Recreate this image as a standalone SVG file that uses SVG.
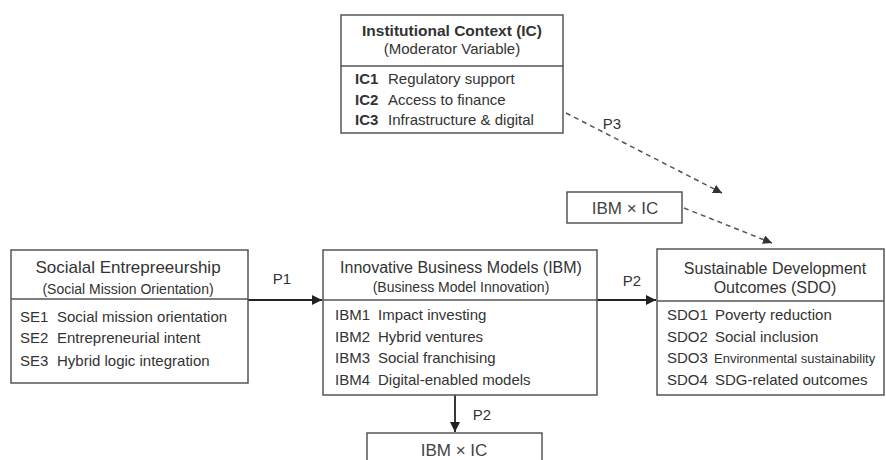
<svg xmlns="http://www.w3.org/2000/svg" width="886" height="460" viewBox="0 0 886 460">
<defs>
<marker id="ah" viewBox="0 0 10 10" refX="10" refY="5" markerWidth="10" markerHeight="10" markerUnits="userSpaceOnUse" orient="auto"><path d="M0,0 L10,5 L0,10 z" fill="#222"/></marker>
<marker id="ahd" viewBox="0 0 10 10" refX="10" refY="5" markerWidth="9" markerHeight="9" markerUnits="userSpaceOnUse" orient="auto"><path d="M0,0 L10,5 L0,10 z" fill="#333"/></marker>
<style>
text{font-family:"Liberation Sans",Arial,sans-serif;fill:#333}
.box{fill:#fff;stroke:#555;stroke-width:1.5}
.div{stroke:#555;stroke-width:1.5}
.t{font-size:16px;text-anchor:middle}
.tb{font-size:15.5px;font-weight:bold;text-anchor:middle}
.s{font-size:14px;text-anchor:middle}
.i{font-size:15px}
.lab{font-size:15px;text-anchor:middle}
.x{font-size:17px;text-anchor:middle;fill:#444}
.ar{stroke:#222;stroke-width:1.8;fill:none}
.da{stroke:#555;stroke-width:1.5;stroke-dasharray:5,4;fill:none}
</style>
</defs>
<g id="connectors">
<line class="ar" x1="248" y1="300" x2="322" y2="300" marker-end="url(#ah)"/>
<text class="lab" x="282" y="284">P1</text>
<line class="ar" x1="597" y1="300" x2="656" y2="300" marker-end="url(#ah)"/>
<text class="lab" x="632" y="286">P2</text>
<line class="ar" x1="455" y1="395" x2="455" y2="432" marker-end="url(#ah)"/>
<text class="lab" x="482" y="420">P2</text>
<line class="da" x1="566" y1="113" x2="722" y2="193" marker-end="url(#ahd)"/>
<text class="lab" x="612" y="129">P3</text>
<line class="da" x1="684" y1="208" x2="772" y2="243" marker-end="url(#ahd)"/>
</g>
<g id="ic">
<rect class="box" x="341" y="15" width="222" height="118"/>
<line class="div" x1="341" y1="66" x2="563" y2="66"/>
<text class="tb" x="452" y="36">Institutional Context (IC)</text>
<text class="s" x="452" y="54" style="font-size:15px">(Moderator Variable)</text>
<text class="i" x="355" y="84"><tspan font-weight="bold">IC1</tspan><tspan x="388">Regulatory support</tspan></text>
<text class="i" x="355" y="105"><tspan font-weight="bold">IC2</tspan><tspan x="388">Access to finance</tspan></text>
<text class="i" x="355" y="125"><tspan font-weight="bold">IC3</tspan><tspan x="388">Infrastructure &amp; digital</tspan></text>
</g>
<g id="se">
<rect class="box" x="11" y="250" width="237" height="133"/>
<line class="div" x1="11" y1="299" x2="248" y2="299"/>
<text class="t" x="128" y="273" style="font-size:17px">Socialal Entrepreeurship</text>
<text class="s" x="128" y="294">(Social Mission Orientation)</text>
<text class="i" x="20" y="322">SE1<tspan x="57">Social mission orientation</tspan></text>
<text class="i" x="20" y="343">SE2<tspan x="57">Entrepreneurial intent</tspan></text>
<text class="i" x="20" y="366">SE3<tspan x="57">Hybrid logic integration</tspan></text>
</g>
<g id="ibm">
<rect class="box" x="323" y="250" width="274" height="145"/>
<line class="div" x1="323" y1="300" x2="597" y2="300"/>
<text class="t" x="461" y="273">Innovative Business Models (IBM)</text>
<text class="s" x="461" y="292">(Business Model Innovation)</text>
<text class="i" x="335" y="320">IBM1<tspan x="378">Impact investing</tspan></text>
<text class="i" x="335" y="342">IBM2<tspan x="378">Hybrid ventures</tspan></text>
<text class="i" x="335" y="363">IBM3<tspan x="378">Social franchising</tspan></text>
<text class="i" x="335" y="385">IBM4<tspan x="378">Digital-enabled models</tspan></text>
</g>
<g id="sdo">
<rect class="box" x="657" y="249" width="227" height="146"/>
<line class="div" x1="657" y1="301" x2="884" y2="301"/>
<text class="t" x="775" y="274">Sustainable Development</text>
<text class="t" x="775" y="293">Outcomes (SDO)</text>
<text class="i" x="667" y="320">SDO1<tspan x="715">Poverty reduction</tspan></text>
<text class="i" x="667" y="342">SDO2<tspan x="715">Social inclusion</tspan></text>
<text class="i" x="667" y="363">SDO3<tspan x="714" style="font-size:13px">Environmental sustainability</tspan></text>
<text class="i" x="667" y="385">SDO4<tspan x="715">SDG-related outcomes</tspan></text>
</g>
<g id="ibmxic1">
<rect class="box" x="567" y="192" width="115" height="31"/>
<text class="x" x="625" y="214">IBM × IC</text>
</g>
<g id="ibmxic2">
<rect class="box" x="367" y="433" width="175" height="40"/>
<text class="x" x="454" y="456">IBM × IC</text>
</g>
</svg>
